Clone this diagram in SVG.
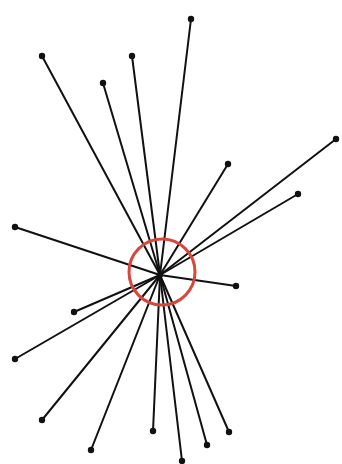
<svg xmlns="http://www.w3.org/2000/svg" width="342" height="464" viewBox="0 0 342 464">
<style>
.e{stroke:#111;stroke-width:2;stroke-linecap:round}
.n{fill:#111}
.hl{fill:none;stroke:#d9463b;stroke-width:3}
</style>
<rect width="342" height="464" fill="#fff"/>
<g id="connectors">
<line class="e" x1="160" y1="275" x2="42" y2="56"/>
<line class="e" x1="160" y1="275" x2="103" y2="83"/>
<line class="e" x1="160" y1="275" x2="132" y2="56"/>
<line class="e" x1="160" y1="275" x2="191" y2="19"/>
<line class="e" x1="160" y1="275" x2="336" y2="139"/>
<line class="e" x1="160" y1="275" x2="228" y2="164"/>
<line class="e" x1="160" y1="275" x2="298" y2="194"/>
<line class="e" x1="160" y1="275" x2="15" y2="227"/>
<line class="e" x1="160" y1="275" x2="236" y2="286"/>
<line class="e" x1="160" y1="275" x2="74" y2="312"/>
<line class="e" x1="160" y1="275" x2="15" y2="359"/>
<line class="e" x1="160" y1="275" x2="42" y2="420"/>
<line class="e" x1="160" y1="275" x2="91" y2="450"/>
<line class="e" x1="160" y1="275" x2="153" y2="431"/>
<line class="e" x1="160" y1="275" x2="182" y2="461"/>
<line class="e" x1="160" y1="275" x2="207" y2="445"/>
<line class="e" x1="160" y1="275" x2="229" y2="432"/>
</g>
<g id="hub"><circle class="n" cx="160" cy="275" r="3"/></g>
<g id="highlight"><circle class="hl" cx="162" cy="272" r="33"/></g>
<g id="n1"><circle class="n" cx="42" cy="56" r="3.2"/></g>
<g id="n2"><circle class="n" cx="103" cy="83" r="3.2"/></g>
<g id="n3"><circle class="n" cx="132" cy="56" r="3.2"/></g>
<g id="n4"><circle class="n" cx="191" cy="19" r="3.2"/></g>
<g id="n5"><circle class="n" cx="336" cy="139" r="3.2"/></g>
<g id="n6"><circle class="n" cx="228" cy="164" r="3.2"/></g>
<g id="n7"><circle class="n" cx="298" cy="194" r="3.2"/></g>
<g id="n8"><circle class="n" cx="15" cy="227" r="3.2"/></g>
<g id="n9"><circle class="n" cx="236" cy="286" r="3.2"/></g>
<g id="n10"><circle class="n" cx="74" cy="312" r="3.2"/></g>
<g id="n11"><circle class="n" cx="15" cy="359" r="3.2"/></g>
<g id="n12"><circle class="n" cx="42" cy="420" r="3.2"/></g>
<g id="n13"><circle class="n" cx="91" cy="450" r="3.2"/></g>
<g id="n14"><circle class="n" cx="153" cy="431" r="3.2"/></g>
<g id="n15"><circle class="n" cx="182" cy="461" r="3.2"/></g>
<g id="n16"><circle class="n" cx="207" cy="445" r="3.2"/></g>
<g id="n17"><circle class="n" cx="229" cy="432" r="3.2"/></g>
</svg>
